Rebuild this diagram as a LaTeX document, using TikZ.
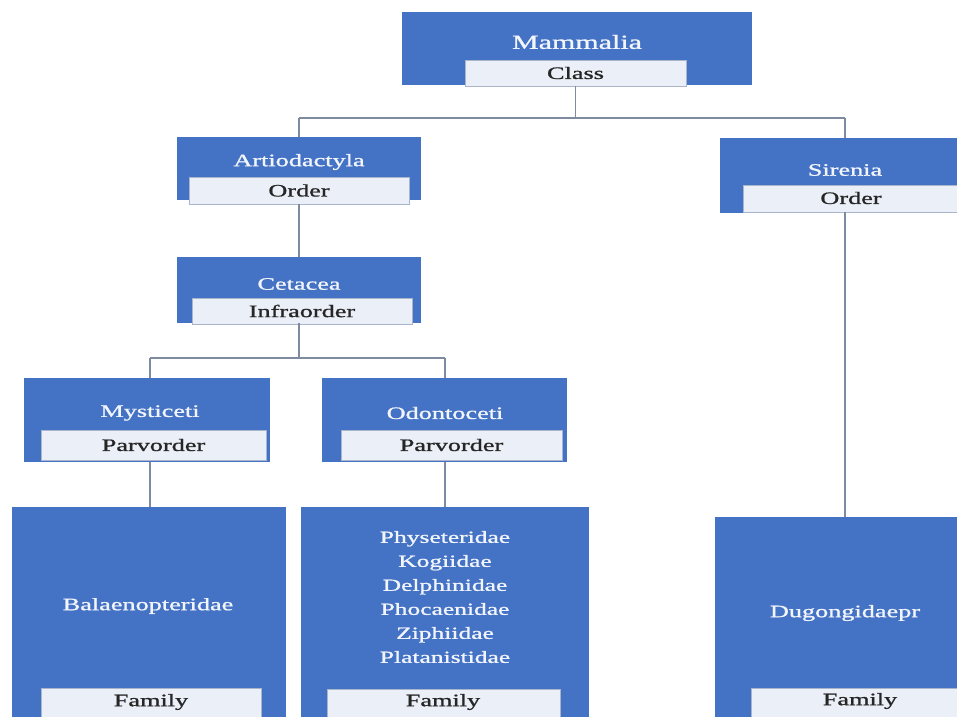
\documentclass[tikz,border=0pt]{standalone}
\usepackage{fontspec}
\setmainfont{Liberation Serif}[BoldFont=Liberation Serif, BoldFeatures={FakeBold=0.9}]
\newcommand{\stretchtxt}[1]{\scalebox{1.5}[1]{\bfseries #1}}
\definecolor{boxblue}{HTML}{4472C4}
\definecolor{tagfill}{HTML}{EBEFF7}
\definecolor{tagline}{HTML}{A9B5CB}
\definecolor{linecol}{HTML}{7E8AA0}
\definecolor{titlecol}{HTML}{F2F5FB}
\begin{document}
\begin{tikzpicture}[x=1pt,y=-1pt,
  bluebox/.style={fill=boxblue, draw=none, anchor=north west, inner sep=0pt, outer sep=0pt},
  title/.style={text=titlecol, inner sep=0pt, font=\fontsize{17.5}{21}\selectfont},
  tag/.style={fill=tagfill, draw=tagline, line width=0.6pt, anchor=north west, inner sep=0pt, outer sep=0pt, text=black, font=\fontsize{17.5}{21}\selectfont},
  word/.style={inner sep=0pt, text=black!85, font=\fontsize{17.5}{21}\selectfont},
  conn/.style={draw=linecol, line width=1.2pt}]
\clip (0,0) rectangle (957,716);
\fill[white] (0,0) rectangle (957,716);
% Mammalia
\node[bluebox, minimum width=350pt, minimum height=73pt] (mamB) at (402,12) {};
\node[title, font=\fontsize{20}{24}\selectfont] (mamT) at (577,42) {\stretchtxt{Mammalia}};
\node[tag, minimum width=221pt, minimum height=26pt] (mamL) at (465,60) {};
\node[word] (mamW) at (mamL.center) {\stretchtxt{Class}};
% Artiodactyla
\node[bluebox, minimum width=244pt, minimum height=63pt] (artB) at (177,137) {};
\node[title] (artT) at (299,162) {\stretchtxt{Artiodactyla}};
\node[tag, minimum width=220pt, minimum height=27pt] (artL) at (189,177) {};
\node[word] (artW) at (artL.center) {\stretchtxt{Order}};
% Sirenia
\node[bluebox, minimum width=255pt, minimum height=75pt] (sirB) at (720,138) {};
\node[title] (sirT) at (845,170) {\stretchtxt{Sirenia}};
\node[tag, minimum width=217pt, minimum height=27pt] (sirL) at (743,185) {};
\node[word] (sirW) at (851,198) {\stretchtxt{Order}};
% Cetacea
\node[bluebox, minimum width=244pt, minimum height=66pt] (cetB) at (177,257) {};
\node[title] (cetT) at (299,284) {\stretchtxt{Cetacea}};
\node[tag, minimum width=220pt, minimum height=26pt] (cetL) at (192,298) {};
\node[word] (cetW) at (cetL.center) {\stretchtxt{Infraorder}};
% Mysticeti
\node[bluebox, minimum width=246pt, minimum height=84pt] (mysB) at (24,378) {};
\node[title] (mysT) at (150,413) {\stretchtxt{Mysticeti}};
\node[tag, minimum width=225pt, minimum height=30pt] (mysL) at (41,430) {};
\node[word] (mysW) at (mysL.center) {\stretchtxt{Parvorder}};
% Odontoceti
\node[bluebox, minimum width=245pt, minimum height=84pt] (odoB) at (322,378) {};
\node[title] (odoT) at (445,413) {\stretchtxt{Odontoceti}};
\node[tag, minimum width=221pt, minimum height=30pt] (odoL) at (341,430) {};
\node[word] (odoW) at (odoL.center) {\stretchtxt{Parvorder}};
% Balaenopteridae
\node[bluebox, minimum width=274pt, minimum height=223pt] (balB) at (12,507) {};
\node[title] (balT) at (148,606) {\stretchtxt{Balaenopteridae}};
\node[tag, minimum width=220pt, minimum height=40pt] (balL) at (41,688) {};
\node[word] (balF) at (151,702) {\stretchtxt{Family}};
% Odontoceti families
\node[bluebox, minimum width=288pt, minimum height=223pt] (phyB) at (301,507) {};
\node[title, align=center, font=\fontsize{17}{24}\selectfont] (phyT) at (445,597) {\stretchtxt{Physeteridae}\\\stretchtxt{Kogiidae}\\\stretchtxt{Delphinidae}\\\stretchtxt{Phocaenidae}\\\stretchtxt{Ziphiidae}\\\stretchtxt{Platanistidae}};
\node[tag, minimum width=233pt, minimum height=40pt] (phyL) at (327,689) {};
\node[word] (phyF) at (443,702) {\stretchtxt{Family}};
% Dugongidae
\node[bluebox, minimum width=260pt, minimum height=213pt] (dugB) at (715,517) {};
\node[title] (dugT) at (845,613) {\stretchtxt{Dugongidaepr}};
\node[tag, minimum width=225pt, minimum height=40pt] (dugL) at (751,688) {};
\node[word] (dugF) at (860,701) {\stretchtxt{Family}};
% connectors
\coordinate (bus1) at (0,118);
\coordinate (bus2) at (0,358);
\draw[conn] (mamL.south) -- (mamL.south |- bus1);
\draw[conn] (artB.north |- bus1) -- (sirT |- bus1);
\draw[conn] (artB.north |- bus1) -- (artB.north);
\draw[conn] (sirT |- bus1) -- (sirT |- sirB.north);
\draw[conn] (artL.south) -- (artL.south |- cetB.north);
\draw[conn] (cetB.south) -- (cetB.south |- bus2);
\draw[conn] (mysT |- bus2) -- (odoT |- bus2);
\draw[conn] (mysT |- bus2) -- (mysT |- mysB.north);
\draw[conn] (odoT |- bus2) -- (odoT |- odoB.north);
\draw[conn] (mysT |- mysB.south) -- (mysT |- balB.north);
\draw[conn] (odoT |- odoB.south) -- (odoT |- phyB.north);
\draw[conn] (sirT |- sirL.south) -- (sirT |- dugB.north);
\end{tikzpicture}
\end{document}
